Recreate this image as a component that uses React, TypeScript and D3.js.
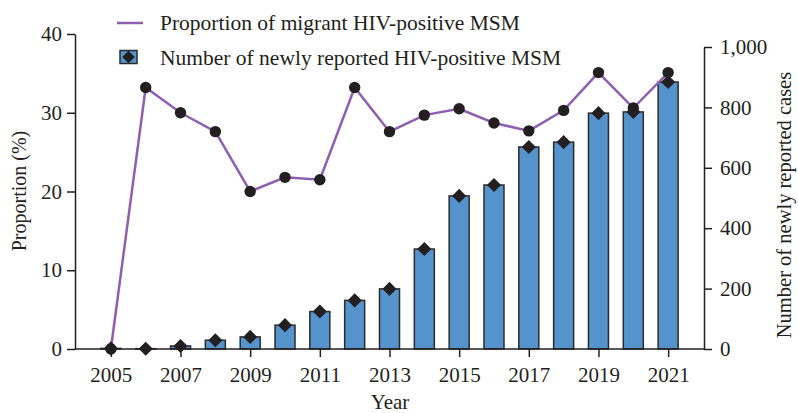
import React, { useEffect, useRef } from "react";
import * as d3 from "d3";

const years = [2005, 2006, 2007, 2008, 2009, 2010, 2011, 2012, 2013, 2014, 2015, 2016, 2017, 2018, 2019, 2020, 2021];
const newCases = [2, 1, 10, 29, 40, 79, 124, 161, 199, 331, 507, 543, 669, 685, 781, 785, 884];
const migrantPct = [0, 33.2, 30.0, 27.6, 20.0, 21.8, 21.5, 33.2, 27.6, 29.7, 30.5, 28.7, 27.7, 30.3, 35.1, 30.6, 35.1];
const xTickYears = [2005, 2007, 2009, 2011, 2013, 2015, 2017, 2019, 2021];
const leftTicks = [0, 10, 20, 30, 40];
const rightTicks = [0, 200, 400, 600, 800, 1000];

const App = () => {
  const ref = useRef<SVGSVGElement>(null);

  useEffect(() => {
    const svg = d3.select(ref.current);
    svg.selectAll("*").remove();

    const width = 798;
    const height = 413;
    const left = 75, right = 704, bottom = 349;
    const ink = "#231f20";
    const font = "'Liberation Serif', 'Times New Roman', serif";
    const tickFs = 21;
    const legendFs = 21.5;

    svg.attr("width", width).attr("height", height).style("font-family", font);

    const x = d3.scalePoint<number>().domain(years).range([left, right]).padding(1.03);
    const yL = d3.scaleLinear().domain([0, 40]).range([bottom, 34]);
    const yR = d3.scaleLinear().domain([0, 1000]).range([bottom, 47]);

    const styleAxis = (g: any) => {
      g.selectAll("path").attr("stroke", ink).attr("stroke-width", 1.5);
      g.selectAll("line").attr("stroke", ink).attr("stroke-width", 1.5);
      g.selectAll("text").attr("fill", ink).style("font-size", tickFs + "px").style("font-family", font);
    };

    // bars
    const barW = 20;
    svg.append("g")
      .selectAll("rect")
      .data(years)
      .enter()
      .append("rect")
      .attr("x", (d) => (x(d) as number) - barW / 2)
      .attr("y", (d, i) => yR(newCases[i]))
      .attr("width", barW)
      .attr("height", (d, i) => bottom - yR(newCases[i]))
      .attr("fill", "#5593cc")
      .attr("stroke", "#2b2b2b")
      .attr("stroke-width", 1.5);

    // axes
    svg.append("g")
      .attr("transform", `translate(${left},0)`)
      .call(d3.axisLeft(yL).tickValues(leftTicks).tickSize(8).tickSizeOuter(0).tickPadding(5))
      .call(styleAxis);

    svg.append("g")
      .attr("transform", `translate(${right},0)`)
      .call(d3.axisRight(yR).tickValues(rightTicks).tickSize(8).tickSizeOuter(0).tickPadding(8).tickFormat(d3.format(",")))
      .call(styleAxis);

    const xAxis = svg.append("g")
      .attr("transform", `translate(0,${bottom})`)
      .call(d3.axisBottom(x).tickValues(xTickYears).tickSize(8).tickSizeOuter(0).tickPadding(10))
      .call(styleAxis);
    xAxis.select("path").attr("d", `M${left},0H${right}`);

    // line
    const line = d3.line<number>()
      .x((d, i) => x(years[i]) as number)
      .y((d) => yL(d));

    svg.append("path")
      .datum(migrantPct)
      .attr("d", line)
      .attr("fill", "none")
      .attr("stroke", "#8e5fb0")
      .attr("stroke-width", 2.5);

    svg.append("g")
      .selectAll("circle")
      .data(migrantPct)
      .enter()
      .append("circle")
      .attr("cx", (d, i) => x(years[i]) as number)
      .attr("cy", (d) => yL(d))
      .attr("r", 5.7)
      .attr("fill", ink);

    const diamond = d3.symbol().type(d3.symbolSquare).size(100);
    svg.append("g")
      .selectAll("path")
      .data(newCases)
      .enter()
      .append("path")
      .attr("d", diamond)
      .attr("transform", (d, i) => `translate(${x(years[i])},${yR(d)}) rotate(45)`)
      .attr("fill", ink);

    // axis titles
    svg.append("text")
      .attr("x", 390)
      .attr("y", 409)
      .attr("text-anchor", "middle")
      .attr("fill", ink)
      .style("font-size", "21px")
      .text("Year");

    svg.append("text")
      .attr("transform", `translate(26,191) rotate(-90)`)
      .attr("text-anchor", "middle")
      .attr("fill", ink)
      .style("font-size", "20px")
      .text("Proportion (%)");

    svg.append("text")
      .attr("transform", `translate(791,205) rotate(-90)`)
      .attr("text-anchor", "middle")
      .attr("fill", ink)
      .style("font-size", "20.5px")
      .text("Number of newly reported cases");

    // legend
    const lg = svg.append("g");
    lg.append("line")
      .attr("x1", 117).attr("x2", 143)
      .attr("y1", 23).attr("y2", 23)
      .attr("stroke", "#8e5fb0").attr("stroke-width", 2.5);
    lg.append("text")
      .attr("x", 160).attr("y", 29.5)
      .attr("fill", ink).style("font-size", legendFs + "px")
      .text("Proportion of migrant HIV-positive MSM");
    lg.append("rect")
      .attr("x", 120).attr("y", 50.5).attr("width", 17).attr("height", 13)
      .attr("fill", "#5593cc").attr("stroke", "#2b2b2b").attr("stroke-width", 1.5);
    lg.append("path")
      .attr("d", d3.symbol().type(d3.symbolSquare).size(80))
      .attr("transform", "translate(128.5,57) rotate(45)")
      .attr("fill", ink);
    lg.append("text")
      .attr("x", 160).attr("y", 65)
      .attr("fill", ink).style("font-size", legendFs + "px")
      .text("Number of newly reported HIV-positive MSM");
  }, []);

  return <svg ref={ref} style={{ position: "absolute", left: 0, top: 0 }}></svg>;
};

export default App;
